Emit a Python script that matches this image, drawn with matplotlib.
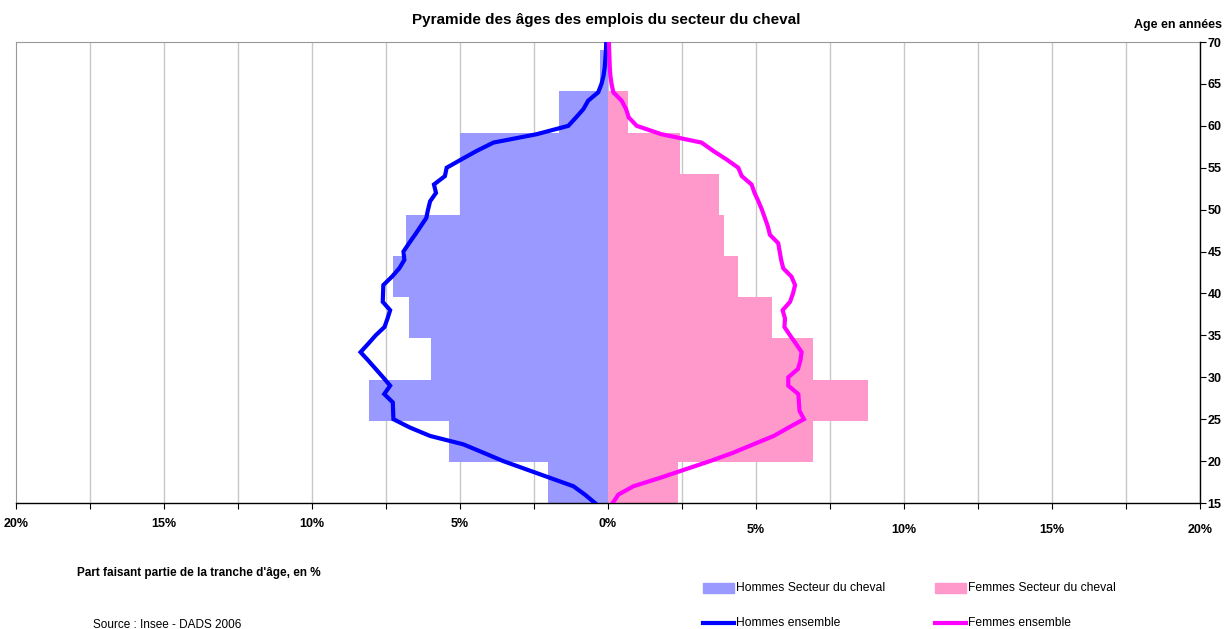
import numpy as np
import matplotlib
matplotlib.use("Agg")
import matplotlib.pyplot as plt
from matplotlib.patches import Rectangle
from matplotlib.lines import Line2D

plt.rcParams['font.family'] = ['Liberation Sans', 'DejaVu Sans']

# Secteur du cheval, part par tranche d'age (%)
age_groups = ['15-19', '20-24', '25-29', '30-34', '35-39', '40-44',
              '45-49', '50-54', '55-59', '60-64', '65-69']
hommes_cheval = [2.04, 5.38, 8.09, 5.98, 6.72, 7.28, 6.82, 5.01, 5.01, 1.67, 0.28]
femmes_cheval = [2.35, 6.91, 8.77, 6.91, 5.53, 4.38, 3.91, 3.74, 2.43, 0.67, 0.0]

# Ensemble des emplois, part par age detaille (%)
ages = list(range(15, 71))
hommes_ensemble = [0.44, 0.78, 1.17, 1.96, 2.75, 3.54, 4.21, 4.89, 6.01, 6.69,
                   7.25, 7.26, 7.27, 7.56, 7.36, 7.60, 7.85, 8.10, 8.36, 8.10,
                   7.85, 7.55, 7.45, 7.36, 7.61, 7.60, 7.59, 7.30, 7.05, 6.88,
                   6.91, 6.72, 6.52, 6.33, 6.14, 6.08, 6.01, 5.81, 5.88, 5.51,
                   5.45, 4.95, 4.44, 3.87, 2.41, 1.34, 1.08, 0.83, 0.67, 0.33,
                   0.22, 0.15, 0.11, 0.09, 0.07, 0.06]
femmes_ensemble = [0.16, 0.35, 0.86, 1.76, 2.60, 3.45, 4.23, 4.91, 5.60, 6.10,
                   6.62, 6.47, 6.45, 6.43, 6.09, 6.09, 6.42, 6.50, 6.54, 6.35,
                   6.15, 5.96, 5.98, 5.90, 6.15, 6.25, 6.32, 6.20, 5.92, 5.85,
                   5.80, 5.75, 5.47, 5.40, 5.30, 5.20, 5.08, 4.95, 4.85, 4.52,
                   4.40, 4.00, 3.56, 3.16, 1.80, 0.97, 0.70, 0.61, 0.46, 0.18,
                   0.12, 0.08, 0.06, 0.05, 0.04, 0.03]

x_ticks = np.arange(-20, 20.1, 2.5)

W, H = 1226, 629
fig = plt.figure(figsize=(W / 100, H / 100), dpi=100)
ax = fig.add_axes([16 / W, 1 - 503 / H, (1200 - 16) / W, (503 - 42) / H])

# bars: one category slot per year of age (15..70 -> 56 slots)
slots = np.arange(len(age_groups)) * 5
ax.barh(slots, -np.array(hommes_cheval), height=5, align='edge',
        color='#9999FF', zorder=2)
ax.barh(slots, femmes_cheval, height=5, align='edge',
        color='#FF99CC', zorder=2)
ax.set_ylim(0, 56)
ax.set_xlim(-20, 20)
ax.set_yticks([])
for xv in x_ticks[1:]:
    ax.axvline(xv, color='#c8c8c8', lw=1, zorder=1)

ax.set_xticks(x_ticks)
labels = ['%d%%' % abs(v) if v % 5 == 0 else '' for v in x_ticks]
ax.set_xticklabels(labels, fontsize=9, fontweight='bold')
ax.tick_params(axis='x', direction='out', length=4, width=0.8, pad=6.5)
for tick, v in zip(ax.xaxis.get_major_ticks(), x_ticks):
    if v > 0:
        tick.set_pad(11)

ax.spines['left'].set_color('#999999')
ax.spines['top'].set_color('#999999')
ax.spines['right'].set_visible(False)
ax.spines['bottom'].set_linewidth(1)

# lines on the age axis
ax2 = ax.twinx()
ax2.plot(-np.array(hommes_ensemble), ages, color='#0000FF', lw=3,
         solid_joinstyle='miter', zorder=3)
ax2.plot(femmes_ensemble, ages, color='#FF00FF', lw=3,
         solid_joinstyle='miter', zorder=3)
ax2.set_ylim(15, 70)
ax2.set_yticks(range(15, 71, 5))
ax2.set_yticklabels([str(a) for a in range(15, 71, 5)], fontsize=9,
                    fontweight='bold')
ax2.tick_params(axis='y', direction='out', length=4, width=0.8, pad=1.5)
ax2.spines['left'].set_visible(False)
ax2.spines['top'].set_visible(False)
ax2.spines['bottom'].set_visible(False)
ax2.spines['right'].set_linewidth(1)

fig.text(606 / W, 1 - 20 / H, 'Pyramide des âges des emplois du secteur du cheval',
         ha='center', va='center', fontsize=11, fontweight='bold')
fig.text(1222 / W, 1 - 25 / H, 'Age en années', ha='right', va='center',
         fontsize=9, fontweight='bold')
fig.text(77 / W, 1 - 573 / H, "Part faisant partie de la tranche d'âge, en %",
         ha='left', va='center', fontsize=8.5, fontweight='bold')
fig.text(93 / W, 1 - 625 / H, 'Source : Insee - DADS 2006',
         ha='left', va='center', fontsize=8.5)

# legend
leg_items = [
    ('patch', '#9999FF', 'Hommes Secteur du cheval', 703, 588),
    ('patch', '#FF99CC', 'Femmes Secteur du cheval', 935, 588),
    ('line', '#0000FF', 'Hommes ensemble', 703, 623),
    ('line', '#FF00FF', 'Femmes ensemble', 935, 623),
]
for kind, col, txt, px, py in leg_items:
    if kind == 'patch':
        fig.patches.append(Rectangle((px / W, 1 - (py + 5) / H), 31 / W, 10 / H,
                                     transform=fig.transFigure, color=col))
    else:
        fig.lines.append(Line2D([px / W, (px + 31) / W], [1 - py / H, 1 - py / H],
                                transform=fig.transFigure, color=col, lw=3))
    fig.text((px + 33) / W, 1 - py / H, txt, ha='left', va='center', fontsize=8.7)

fig.savefig('out.png', dpi=100)
